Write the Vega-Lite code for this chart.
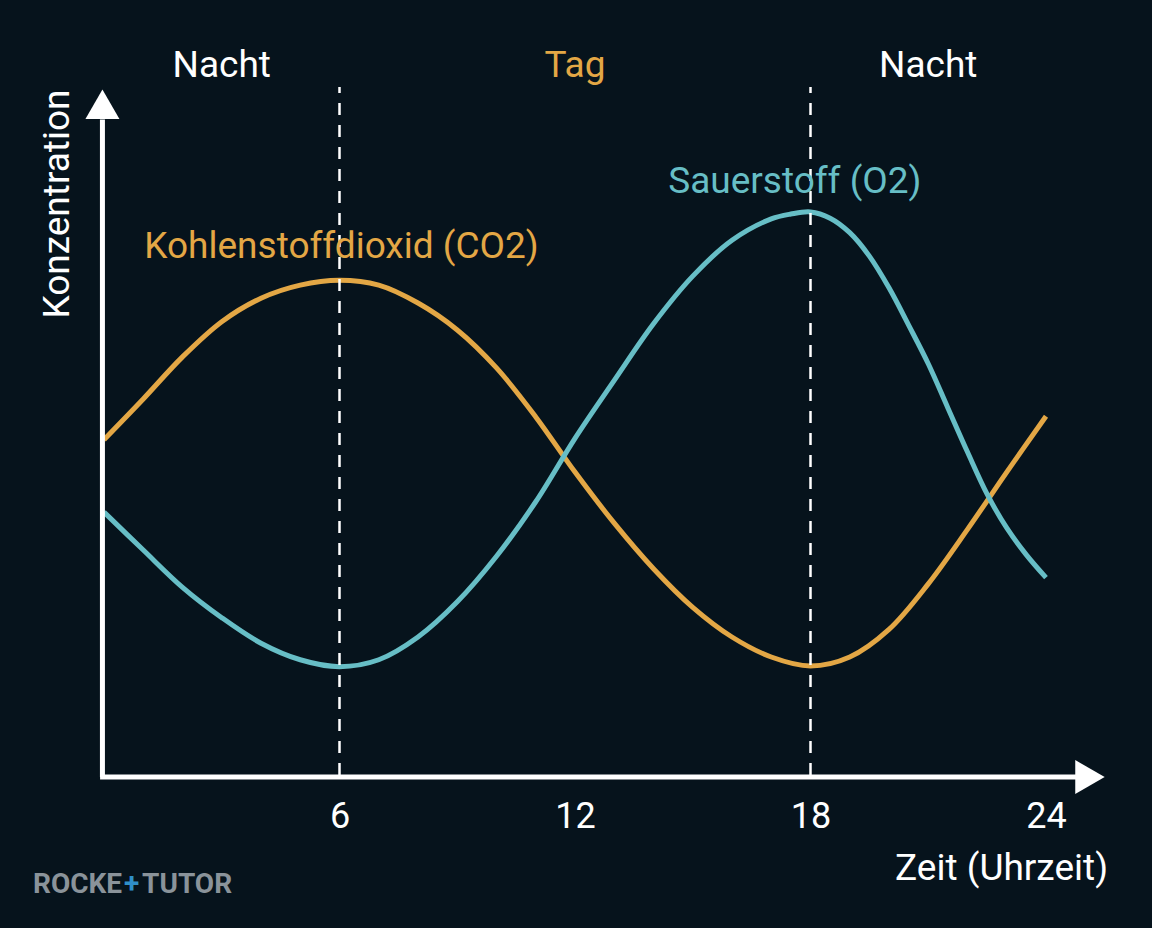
{
  "$schema": "https://vega.github.io/schema/vega-lite/v6.json",
  "width": 942,
  "height": 690,
  "autosize": {"type": "none"},
  "padding": {"left": 104, "top": 85, "right": 106, "bottom": 153},
  "background": "#06131c",
  "config": {"view": {"stroke": null}, "font": "Roboto"},
  "datasets": {
    "curves": [
      {"stunde": 0, "wert": 48.6, "gas": "CO2"},
      {"stunde": 1, "wert": 54.5, "gas": "CO2"},
      {"stunde": 2, "wert": 60.6, "gas": "CO2"},
      {"stunde": 3, "wert": 65.7, "gas": "CO2"},
      {"stunde": 4, "wert": 69.1, "gas": "CO2"},
      {"stunde": 5, "wert": 71.0, "gas": "CO2"},
      {"stunde": 6, "wert": 71.7, "gas": "CO2"},
      {"stunde": 7, "wert": 71.0, "gas": "CO2"},
      {"stunde": 8, "wert": 68.4, "gas": "CO2"},
      {"stunde": 9, "wert": 64.5, "gas": "CO2"},
      {"stunde": 10, "wert": 59.0, "gas": "CO2"},
      {"stunde": 11, "wert": 51.9, "gas": "CO2"},
      {"stunde": 12, "wert": 43.9, "gas": "CO2"},
      {"stunde": 13, "wert": 36.5, "gas": "CO2"},
      {"stunde": 14, "wert": 29.9, "gas": "CO2"},
      {"stunde": 15, "wert": 24.3, "gas": "CO2"},
      {"stunde": 16, "wert": 20.0, "gas": "CO2"},
      {"stunde": 17, "wert": 17.1, "gas": "CO2"},
      {"stunde": 18, "wert": 15.8, "gas": "CO2"},
      {"stunde": 19, "wert": 17.1, "gas": "CO2"},
      {"stunde": 20, "wert": 21.1, "gas": "CO2"},
      {"stunde": 21, "wert": 27.7, "gas": "CO2"},
      {"stunde": 22, "wert": 35.6, "gas": "CO2"},
      {"stunde": 23, "wert": 43.9, "gas": "CO2"},
      {"stunde": 24, "wert": 52.0, "gas": "CO2"},
      {"stunde": 0, "wert": 38.1, "gas": "O2"},
      {"stunde": 1, "wert": 32.6, "gas": "O2"},
      {"stunde": 2, "wert": 27.2, "gas": "O2"},
      {"stunde": 3, "wert": 22.8, "gas": "O2"},
      {"stunde": 4, "wert": 19.1, "gas": "O2"},
      {"stunde": 5, "wert": 16.7, "gas": "O2"},
      {"stunde": 6, "wert": 15.7, "gas": "O2"},
      {"stunde": 7, "wert": 16.7, "gas": "O2"},
      {"stunde": 8, "wert": 20.0, "gas": "O2"},
      {"stunde": 9, "wert": 25.1, "gas": "O2"},
      {"stunde": 10, "wert": 31.7, "gas": "O2"},
      {"stunde": 11, "wert": 39.6, "gas": "O2"},
      {"stunde": 12, "wert": 48.8, "gas": "O2"},
      {"stunde": 13, "wert": 57.2, "gas": "O2"},
      {"stunde": 14, "wert": 65.4, "gas": "O2"},
      {"stunde": 15, "wert": 72.3, "gas": "O2"},
      {"stunde": 16, "wert": 77.5, "gas": "O2"},
      {"stunde": 17, "wert": 80.6, "gas": "O2"},
      {"stunde": 17.5, "wert": 81.3, "gas": "O2"},
      {"stunde": 18, "wert": 81.6, "gas": "O2"},
      {"stunde": 18.5, "wert": 80.7, "gas": "O2"},
      {"stunde": 19, "wert": 78.6, "gas": "O2"},
      {"stunde": 19.5, "wert": 75.2, "gas": "O2"},
      {"stunde": 20, "wert": 70.6, "gas": "O2"},
      {"stunde": 20.5, "wert": 65.2, "gas": "O2"},
      {"stunde": 21, "wert": 59.6, "gas": "O2"},
      {"stunde": 21.5, "wert": 53.2, "gas": "O2"},
      {"stunde": 22, "wert": 46.8, "gas": "O2"},
      {"stunde": 22.5, "wert": 40.7, "gas": "O2"},
      {"stunde": 23, "wert": 35.8, "gas": "O2"},
      {"stunde": 23.5, "wert": 31.9, "gas": "O2"},
      {"stunde": 24, "wert": 28.6, "gas": "O2"}
    ],
    "dividers": [
      {"stunde": 6, "wert": 0, "bis": 99.7},
      {"stunde": 18, "wert": 0, "bis": 99.7}
    ],
    "axislines": [
      {"stunde": -0.1, "stunde2": 24.87, "wert": -0.3, "wert2": -0.3},
      {"stunde": -0.04, "stunde2": -0.04, "wert": -0.3, "wert2": 95}
    ],
    "arrows": [
      {"stunde": 25.12, "wert": -0.3, "form": "triangle-right"},
      {"stunde": -0.04, "wert": 97.2, "form": "triangle-up"}
    ],
    "labels": [
      {"stunde": 3, "wert": 101.2, "text": "Nacht", "farbe": "weiss"},
      {"stunde": 12, "wert": 101.2, "text": "Tag", "farbe": "orange"},
      {"stunde": 21, "wert": 101.2, "text": "Nacht", "farbe": "weiss"},
      {"stunde": 6.05, "wert": 74.9, "text": "Kohlenstoffdioxid (CO2)", "farbe": "orange"},
      {"stunde": 17.6, "wert": 84.3, "text": "Sauerstoff (O2)", "farbe": "tuerkis"}
    ],
    "xtitle": [
      {"stunde": 25.58, "wert": -15.2, "text": "Zeit (Uhrzeit)"}
    ],
    "logo": [
      {"stunde": -1.809, "wert": -17.1, "text": "ROCKE", "teil": "grau"},
      {"stunde": 0.51, "wert": -17.1, "text": "+", "teil": "blau"},
      {"stunde": 0.97, "wert": -17.1, "text": "TUTOR", "teil": "grau"}
    ]
  },
  "encoding": {
    "x": {
      "field": "stunde", "type": "quantitative",
      "scale": {"domain": [0, 24], "nice": false, "zero": false},
      "axis": {"values": [6, 12, 18, 24], "domain": false, "ticks": false, "grid": false, "title": null,
               "labelFontSize": 36, "labelColor": "#ffffff", "labelPadding": 24, "labelFont": "Roboto",
               "labelFlush": false, "labelOverlap": false}
    },
    "y": {
      "field": "wert", "type": "quantitative",
      "scale": {"domain": [0, 100], "nice": false, "zero": false},
      "axis": {"labels": false, "domain": false, "ticks": false, "grid": false, "title": "Konzentration",
               "titleFontSize": 37, "titleColor": "#ffffff", "titleFontWeight": "normal", "titleFont": "Roboto",
               "titlePadding": 28, "titleAnchor": "end", "titleY": 4}
    }
  },
  "resolve": {"scale": {"color": "independent"}},
  "layer": [
    {
      "data": {"name": "curves"},
      "mark": {"type": "line", "strokeWidth": 5, "interpolate": "catmull-rom", "strokeCap": "butt"},
      "encoding": {
        "color": {
          "field": "gas", "type": "nominal",
          "scale": {"domain": ["CO2", "O2"], "range": ["#e3a745", "#67bec6"]},
          "legend": null
        }
      }
    },
    {
      "data": {"name": "dividers"},
      "mark": {"type": "rule", "color": "#ffffff", "strokeWidth": 2.5, "strokeDash": [12, 10]},
      "encoding": {
        "y2": {"field": "bis"}
      }
    },
    {
      "data": {"name": "axislines"},
      "mark": {"type": "rule", "color": "#ffffff", "strokeWidth": 5},
      "encoding": {
        "x2": {"field": "stunde2"},
        "y2": {"field": "wert2"}
      }
    },
    {
      "data": {"name": "arrows"},
      "mark": {"type": "point", "filled": true, "color": "#ffffff", "opacity": 1, "size": 1156},
      "encoding": {
        "shape": {"field": "form", "type": "nominal", "scale": {"domain": ["triangle-right", "triangle-up"], "range": ["triangle-right", "triangle-up"]}, "legend": null}
      }
    },
    {
      "data": {"name": "labels"},
      "mark": {"type": "text", "fontSize": 37, "align": "center", "baseline": "alphabetic", "font": "Roboto"},
      "encoding": {
        "text": {"field": "text"},
        "color": {
          "field": "farbe", "type": "nominal",
          "scale": {"domain": ["weiss", "orange", "tuerkis"], "range": ["#ffffff", "#e3a745", "#67bec6"]},
          "legend": null
        }
      }
    },
    {
      "data": {"name": "xtitle"},
      "mark": {"type": "text", "fontSize": 37, "align": "right", "baseline": "alphabetic", "color": "#ffffff", "font": "Roboto"},
      "encoding": {
        "text": {"field": "text"}
      }
    },
    {
      "data": {"name": "logo"},
      "mark": {"type": "text", "fontSize": 28, "fontWeight": "bold", "align": "left", "baseline": "alphabetic", "font": "Roboto"},
      "encoding": {
        "text": {"field": "text"},
        "color": {
          "field": "teil", "type": "nominal",
          "scale": {"domain": ["grau", "blau"], "range": ["#8a939a", "#2f8fc8"]},
          "legend": null
        }
      }
    }
  ]
}
